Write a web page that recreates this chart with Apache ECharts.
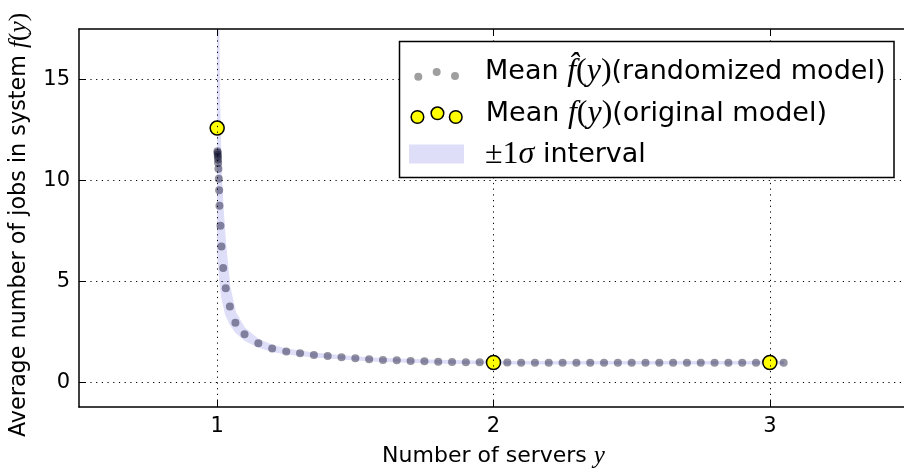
<!DOCTYPE html>
<html><head><meta charset="utf-8">
<script src="https://cdn.jsdelivr.net/npm/echarts@6/dist/echarts.min.js"></script>
<style>html,body{margin:0;padding:0;background:#fff}#c{width:904px;height:468px}</style>
</head><body><div id="c"></div>
<script>
// ---- data ----
const randX = [1.001, 1.0015, 1.002, 1.0025, 1.003, 1.0035, 1.0045, 1.0058, 1.0072, 1.0083, 1.0119, 1.0155, 1.0217, 1.031, 1.046, 1.066, 1.099, 1.149, 1.199,
  1.25, 1.30, 1.35, 1.40, 1.45, 1.50, 1.55, 1.60, 1.65, 1.70, 1.75, 1.80, 1.85, 1.90, 1.95, 2.00,
  2.05, 2.10, 2.15, 2.20, 2.25, 2.30, 2.35, 2.40, 2.45, 2.50, 2.55, 2.60, 2.65, 2.70, 2.75, 2.80, 2.85, 2.90, 2.95, 3.00, 3.05];
const randMean = [11.45, 11.38, 11.28, 11.18, 11.04, 10.87, 10.59, 10.09, 9.52, 8.76, 7.77, 6.74, 5.68, 4.68, 3.77, 2.97, 2.40, 1.95, 1.70,
  1.54, 1.46, 1.37, 1.32, 1.26, 1.21, 1.16, 1.125, 1.11, 1.075, 1.06, 1.04, 1.03, 1.015, 1.01, 1.00,
  1.00, 0.995, 0.995, 0.99, 0.99, 0.99, 0.99, 0.99, 0.99, 0.99, 0.99, 0.99, 0.99, 0.99, 0.99, 0.99, 0.99, 0.99, 0.99, 0.99, 0.99];
const bandLow = [6.5, 6.4, 6.3, 6.2, 6.1, 6.0, 5.9, 5.7, 5.4, 5.2, 4.7, 4.3, 3.9, 3.35, 2.9, 2.5, 2.1, 1.76, 1.55,
  1.42, 1.35, 1.27, 1.23, 1.18, 1.13, 1.085, 1.05, 1.04, 1.005, 0.99, 0.97, 0.965, 0.95, 0.945, 0.935,
  0.93, 0.93, 0.93, 0.93, 0.93, 0.93, 0.93, 0.93, 0.93, 0.93, 0.93, 0.93, 0.93, 0.93, 0.93, 0.93, 0.93, 0.93, 0.93, 0.93, 0.93];
const bandHigh = [19, 19, 19, 19, 18.5, 18.5, 18, 18, 16, 14.5, 12, 10.3, 8.6, 6.8, 4.75, 3.5, 2.72, 2.15, 1.86,
  1.67, 1.57, 1.47, 1.41, 1.34, 1.29, 1.235, 1.2, 1.18, 1.145, 1.13, 1.11, 1.095, 1.08, 1.075, 1.065,
  1.055, 1.055, 1.055, 1.055, 1.055, 1.055, 1.055, 1.055, 1.055, 1.055, 1.055, 1.055, 1.055, 1.055, 1.055, 1.055, 1.055, 1.055, 1.055, 1.055, 1.055];
const origX = [1, 2, 3];
const origMean = [12.6, 1.0, 1.0];
const xTicks = [1, 2, 3];
const yTicks = [0, 5, 10, 15];

// ---- styles ----
const SANS = 'DejaVu Sans';
const SERIF = 'Liberation Serif';
const LAV = '#dedef9';
const mathRich = (fs, add) => ({
  m: {fontFamily: SERIF, fontStyle: 'italic', fontSize: fs + add, color: '#000'},
  s: {fontFamily: SERIF, fontSize: fs + add, color: '#000'},
  t: {fontFamily: SANS, fontSize: fs, color: '#000'}
});
const legendRich = (() => {
  const r = mathRich(27, 5);
  Object.keys(r).forEach(k => r[k].lineHeight = 30);
  return r;
})();
const legendText = {
  rand: '{t|Mean }{m|f\u0302}{s|(}{m|y}{s|)}{t|(randomized model)}',
  orig: '{t|Mean }{m|f}{s|(}{m|y}{s|)}{t|(original model)}',
  band: '{s|\u00b11}{m|\u03c3}{t| interval}'
};
function circ(cx, cy, r) {
  return 'M' + (cx - r) + ' ' + cy + 'A' + r + ' ' + r + ' 0 1 0 ' + (cx + r) + ' ' + cy +
         'A' + r + ' ' + r + ' 0 1 0 ' + (cx - r) + ' ' + cy + 'Z';
}
const IW = 71, IH = 30;
const frame = 'M0 0M' + IW + ' ' + IH;
const iconDots = 'path://' + frame + circ(9.3, 19.7, 4) + circ(27.7, 15, 4) + circ(46, 19, 4);
const iconYel = 'path://' + frame + circ(7.7, 18, 6.3) + circ(27.7, 14.3, 6.3) + circ(46, 18, 6.3);
const iconRect = 'path://' + frame + 'M0 4.5L55 4.5L55 23.5L0 23.5Z';

function mkLegend(name, top, icon, itemStyle) {
  return {
    left: 409, top: top, padding: 0, orient: 'vertical', z: 10,
    itemWidth: IW, itemHeight: IH, selectedMode: false,
    data: [{name: name, icon: icon, itemStyle: itemStyle, lineStyle: {width: 0, opacity: 0}}],
    formatter: n => legendText[n],
    textStyle: {fontFamily: SANS, fontSize: 27, color: '#000', lineHeight: 30, rich: legendRich}
  };
}

const axisLineStyle = {color: '#000', width: 1.5};
const gridLineStyle = {color: '#000', width: 1, type: [1.2, 4.5]};

const option = {
  animation: false,
  backgroundColor: '#fff',
  grid: {left: 79, right: -4, top: 29, bottom: 61, containLabel: false, outerBoundsMode: 'none'},
  xAxis: [{
    type: 'value', min: 0.5, max: 3.5, position: 'bottom', z: 5,
    axisLine: {show: true, onZero: false, lineStyle: axisLineStyle},
    axisTick: {show: true, inside: true, length: 7, customValues: xTicks, lineStyle: {color: '#000', width: 1}},
    axisLabel: {customValues: xTicks, color: '#000', fontFamily: SANS, fontSize: 21, margin: 9},
    splitLine: {show: true, lineStyle: gridLineStyle},
    name: 'Number of servers {m|y}', nameLocation: 'middle', nameGap: 37,
    nameTextStyle: {fontFamily: SANS, fontSize: 22, color: '#000', rich: mathRich(22, 3)}
  }, {
    type: 'value', min: 0.5, max: 3.5, position: 'top', z: 5,
    axisLine: {show: true, onZero: false, lineStyle: axisLineStyle},
    axisTick: {show: true, inside: true, length: 7, customValues: xTicks, lineStyle: {color: '#000', width: 1}},
    axisLabel: {show: false}, splitLine: {show: false}
  }],
  yAxis: [{
    type: 'value', min: -1.2, max: 17.5, z: 5,
    axisLine: {show: true, onZero: false, lineStyle: axisLineStyle},
    axisTick: {show: true, inside: true, length: 7, customValues: yTicks, lineStyle: {color: '#000', width: 1}},
    axisLabel: {customValues: yTicks, color: '#000', fontFamily: SANS, fontSize: 21, margin: 9},
    splitLine: {show: true, lineStyle: gridLineStyle},
    name: 'Average number of jobs in system {m|f}{s|(}{m|y}{s|)}', nameLocation: 'middle', nameGap: 47,
    nameTextStyle: {fontFamily: SANS, fontSize: 22.3, color: '#000', padding: [0, 14, 0, 0], rich: mathRich(22.3, 3)}
  }],
  legend: [
    mkLegend('rand', 56, iconDots, {color: 'rgba(0,0,0,0.47)', borderWidth: 0}),
    mkLegend('orig', 98, iconYel, {color: '#ffff00', borderColor: '#000', borderWidth: 1.5}),
    mkLegend('band', 139, iconRect, {color: LAV, borderWidth: 0})
  ],
  graphic: [{
    type: 'rect', z: 8, silent: true,
    shape: {x: 399.5, y: 41.5, width: 494.5, height: 136},
    style: {fill: '#fff', stroke: '#000', lineWidth: 1.5}
  }],
  series: [{
    name: 'band', type: 'custom', z: 1, silent: true, clip: true,
    data: randX.map((x, i) => [x, bandLow[i], bandHigh[i]]),
    encode: {x: 0, y: [1, 2]},
    itemStyle: {color: LAV},
    renderItem: function (params, api) {
      if (params.dataIndex !== 0) return null;
      const upper = randX.map((x, i) => api.coord([x, bandHigh[i]]));
      const lower = randX.map((x, i) => api.coord([x, bandLow[i]])).reverse();
      return {
        type: 'polygon',
        shape: {points: upper.concat(lower)},
        style: {fill: LAV, stroke: LAV, lineWidth: 1}
      };
    }
  }, {
    name: 'rand', type: 'scatter', z: 2, silent: true,
    data: randX.map((x, i) => [x, randMean[i]]),
    symbolSize: 8, itemStyle: {color: 'rgba(10,10,40,0.55)'}
  }, {
    name: 'orig', type: 'scatter', z: 3, silent: true,
    data: origX.map((x, i) => [x, origMean[i]]),
    symbolSize: 14, itemStyle: {color: '#ffff00', borderColor: '#000', borderWidth: 1.5, opacity: 1}
  }]
};
const chart = echarts.init(document.getElementById('c'), null, {renderer: 'canvas'});
chart.setOption(option);
</script>
</body></html>
